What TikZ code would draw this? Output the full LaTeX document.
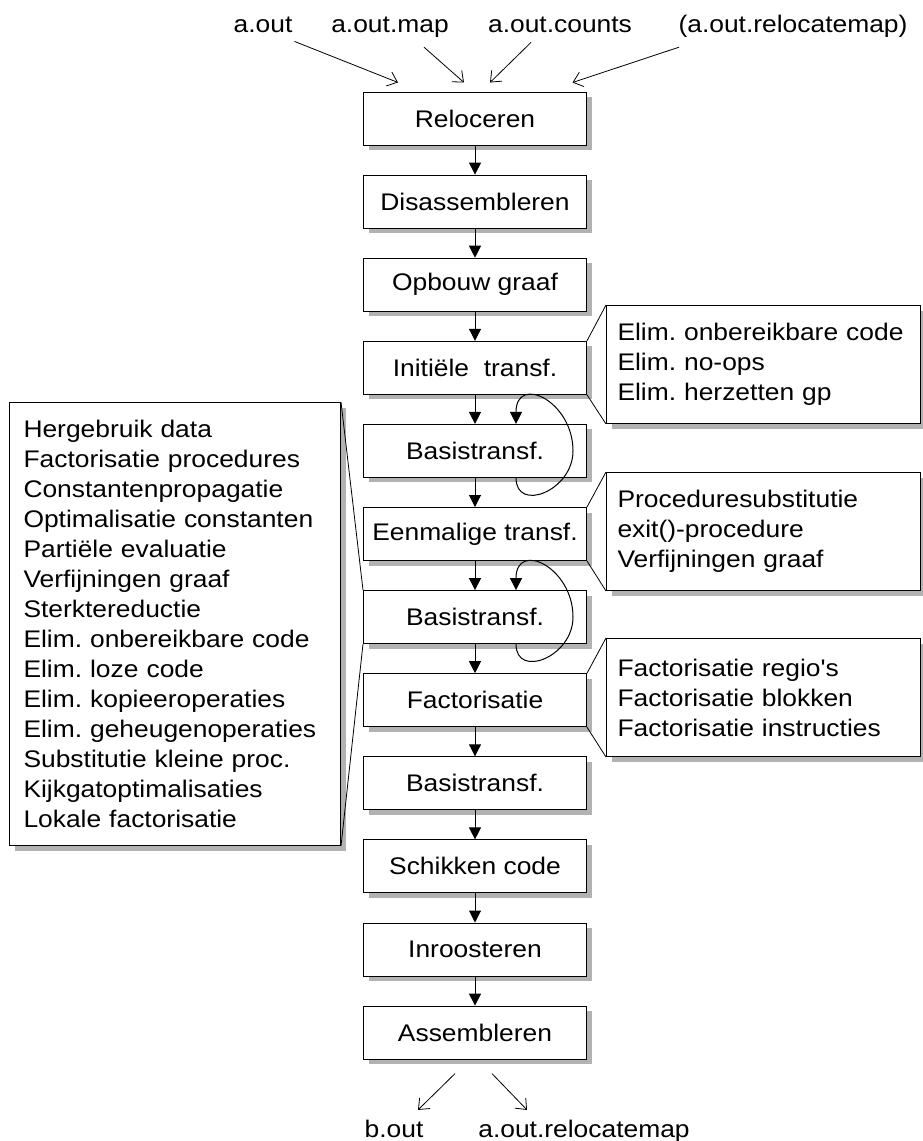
\documentclass[tikz,border=0pt]{standalone}
\usepackage{fontspec}
\setmainfont{Liberation Sans}[FakeStretch=1.1,Ligatures=TeXOff]
\usetikzlibrary{arrows.meta,shadows}
\frenchspacing

\begin{document}
\begin{tikzpicture}[x=1pt,y=1pt,
    every node/.style={font=\fontsize{24}{30}\selectfont},
    stage/.style={draw,fill=white,line width=1pt,minimum width=223pt,minimum height=53pt,
        drop shadow={shadow xshift=5pt,shadow yshift=-5pt,fill=black!30,opacity=1}},
    note/.style={draw,fill=white,line width=1pt,anchor=north west,align=left,inner ysep=0pt,
        drop shadow={shadow xshift=5pt,shadow yshift=-5pt,fill=black!30,opacity=1}},
    fname/.style={anchor=base,inner sep=3pt},
    flow/.style={line width=1pt,-{Triangle[length=12pt,width=12pt]}},
    io/.style={line width=0.8pt,-{Straight Barb[length=9pt,width=15pt]}},
    callout/.style={line width=0.8pt}]
    \useasboundingbox (0,0) rectangle (923,-1141);
    %input files
    \node[fname] (aout) at (263,-32) {a.out};
    \node[fname] (amap) at (390,-32) {a.out.map};
    \node[fname] (acount) at (560,-32) {a.out.counts};
    \node[fname] (arelin) at (793,-32) {(a.out.relocatemap)};
    %passes
    \node[stage] (reloc) at (475,-118.5) {Reloceren};
    \node[stage] (disas) at (475,-201.6) {Disassembleren};
    \node[stage] (graaf) at (475,-284.7) {Opbouw graaf};
    \node[stage] (init) at (475,-367.8) {Initiële~ transf.};
    \node[stage] (basisa) at (475,-450.9) {Basistransf.};
    \node[stage] (eenm) at (475,-534) {Eenmalige transf.};
    \node[stage] (basisb) at (475,-617.1) {Basistransf.};
    \node[stage] (fact) at (475,-700.2) {Factorisatie};
    \node[stage] (basisc) at (475,-783.3) {Basistransf.};
    \node[stage] (schik) at (475,-866.4) {Schikken code};
    \node[stage] (inroost) at (475,-949.5) {Inroosteren};
    \node[stage] (assem) at (475,-1032.6) {Assembleren};
    %output files
    \node[fname] (bout) at (394,-1137) {b.out};
    \node[fname] (arelout) at (584,-1137) {a.out.relocatemap};

    \draw[io] ([xshift=31.5pt,yshift=-6pt]aout.south) -- ([xshift=-77pt,yshift=9pt]reloc.north);
    \draw[io] ([xshift=34pt,yshift=-7pt]amap.south) -- ([xshift=-11pt,yshift=9pt]reloc.north);
    \draw[io] ([xshift=-29pt,yshift=-7pt]acount.south) -- ([xshift=15pt,yshift=9pt]reloc.north);
    \draw[io] ([xshift=-114pt,yshift=-7pt]arelin.south) -- ([xshift=97.5pt,yshift=9pt]reloc.north);

    \draw[flow] (reloc) -- (disas);
    \draw[flow] (disas) -- (graaf);
    \draw[flow] (graaf) -- (init);
    \draw[flow] (init) -- (basisa);
    \draw[flow] (basisa) -- (eenm);
    \draw[flow] (eenm) -- (basisb);
    \draw[flow] (basisb) -- (fact);
    \draw[flow] (fact) -- (basisc);
    \draw[flow] (basisc) -- (schik);
    \draw[flow] (schik) -- (inroost);
    \draw[flow] (inroost) -- (assem);

    %repeated passes
    \coordinate (loopaout) at ([xshift=41pt]basisa.south);
    \coordinate (loopaside) at ([xshift=98pt]basisa.center);
    \coordinate (loopain) at ([xshift=41pt]basisa.north);
    \draw[flow] (loopaout) .. controls +(0,-35) and +(0,-40) .. (loopaside)
        .. controls +(0,50) and +(0,50) .. (loopain);
    \coordinate (loopbout) at ([xshift=41pt]basisb.south);
    \coordinate (loopbside) at ([xshift=98pt]basisb.center);
    \coordinate (loopbin) at ([xshift=41pt]basisb.north);
    \draw[flow] (loopbout) .. controls +(0,-35) and +(0,-40) .. (loopbside)
        .. controls +(0,50) and +(0,50) .. (loopbin);

    \draw[io] ([xshift=-20pt,yshift=-14pt]assem.south) -- ([xshift=24pt,yshift=6.5pt]bout.north);
    \draw[io] ([xshift=17pt,yshift=-14pt]assem.south) -- ([xshift=-57pt,yshift=6.5pt]arelout.north);

    %details per pass
    \node[note,text width=292pt,inner xsep=11pt,minimum height=118pt] (initnote) at (606,-305)
        {Elim. onbereikbare code\\Elim. no-ops\\Elim. herzetten gp};
    \node[note,text width=292pt,inner xsep=11pt,minimum height=118pt] (eenmnote) at (606,-472)
        {Proceduresubstitutie\\exit()-procedure\\Verfijningen graaf};
    \node[note,text width=292pt,inner xsep=11pt,minimum height=118pt] (factnote) at (606,-638)
        {Factorisatie regio's\\Factorisatie blokken\\Factorisatie instructies};
    \node[note,text width=303pt,inner xsep=14pt,minimum height=443pt] (basisnote) at (9,-402)
        {Hergebruik data\\Factorisatie procedures\\Constantenpropagatie\\Optimalisatie constanten\\
        Partiële evaluatie\\Verfijningen graaf\\Sterktereductie\\Elim. onbereikbare code\\
        Elim. loze code\\Elim. kopieeroperaties\\Elim. geheugenoperaties\\Substitutie kleine proc.\\
        Kijkgatoptimalisaties\\Lokale factorisatie};

    \draw[callout] (init.north east) -- (initnote.north west);
    \draw[callout] (init.south east) -- (initnote.south west);
    \draw[callout] (eenm.north east) -- (eenmnote.north west);
    \draw[callout] (eenm.south east) -- (eenmnote.south west);
    \draw[callout] (fact.north east) -- (factnote.north west);
    \draw[callout] (fact.south east) -- (factnote.south west);
    \draw[callout] (basisnote.north east) -- (basisb.north west);
    \draw[callout] (basisnote.south east) -- (basisb.south west);
\end{tikzpicture}
\end{document}
